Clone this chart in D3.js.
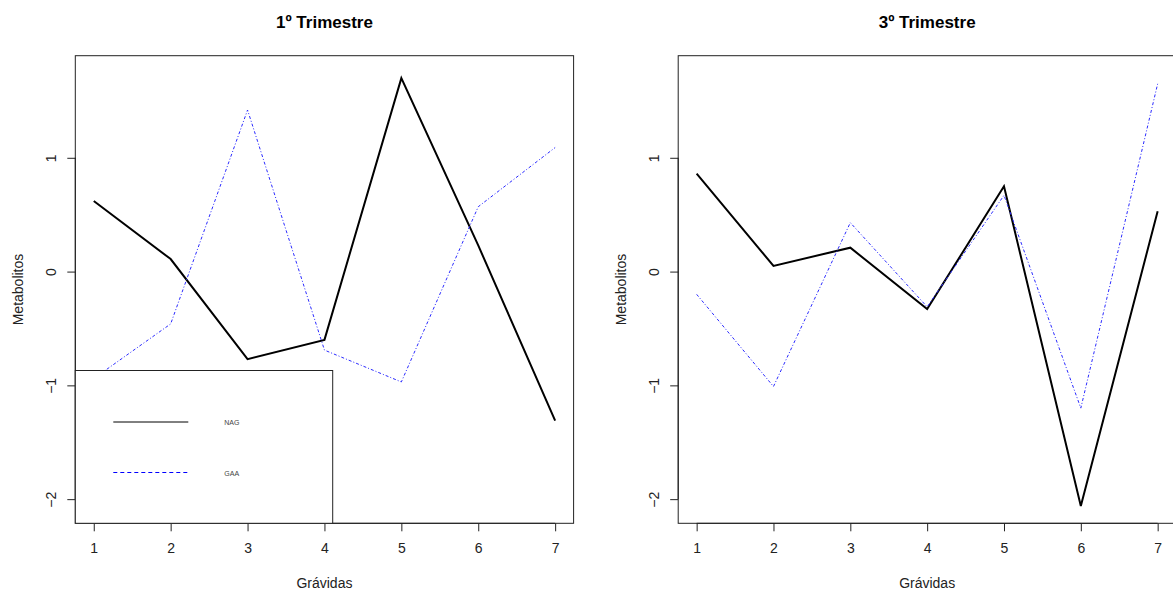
<!DOCTYPE html>
<html>
<head>
<meta charset="utf-8">
<script src="https://cdn.jsdelivr.net/npm/d3@7"></script>
<style>
  html, body { margin: 0; padding: 0; background: #fff; }
  svg { display: block; }
  text { font-family: "Liberation Sans", Arial, sans-serif; }
</style>
</head>
<body>
<svg id="chart" width="1173" height="591"></svg>
<script>
// Gestantes (1..7) and standardized metabolite levels per trimester
const gravidas = [1, 2, 3, 4, 5, 6, 7];

const nagT1 = [0.62, 0.11, -0.77, -0.60, 1.70, 0.23, -1.31];
const gaaT1 = [-0.94, -0.46, 1.42, -0.69, -0.97, 0.57, 1.09];

const nagT3 = [0.86, 0.05, 0.21, -0.33, 0.75, -2.06, 0.53];
const gaaT3 = [-0.20, -1.01, 0.43, -0.31, 0.67, -1.20, 1.65];

const xTicks = [1, 2, 3, 4, 5, 6, 7];
const yTicks = [-2, -1, 0, 1];
const yLimits = [-2.06, 1.745];

const titles = ["1º Trimestre", "3º Trimestre"];
const seriesNames = ["NAG", "GAA"];
const xLabel = "Grávidas";
const yLabel = "Metabolitos";

const svg = d3.select("#chart");

// Plot regions (base-graphics style: box + 4% axis padding)
const panels = [
  { title: titles[0], nag: nagT1, gaa: gaaT1, left: 75.3, right: 573.6, legend: true },
  { title: titles[1], nag: nagT3, gaa: gaaT3, left: 678.2, right: 1176.1, legend: false }
];
const plotTop = 55.7, plotBottom = 523.3;

function padded(lo, hi) {
  const p = (hi - lo) * 0.04;
  return [lo - p, hi + p];
}

panels.forEach(p => {
  const g = svg.append("g");
  const x = d3.scaleLinear()
    .domain(padded(d3.min(gravidas), d3.max(gravidas)))
    .range([p.left, p.right]);
  const y = d3.scaleLinear()
    .domain(padded(yLimits[0], yLimits[1]))
    .range([plotBottom, plotTop]);

  const line = d3.line()
    .x((d, i) => x(gravidas[i]))
    .y(d => y(d));

  // NAG: solid black, GAA: thin blue dot-dash
  g.append("path")
    .datum(p.nag)
    .attr("d", line)
    .attr("fill", "none")
    .attr("stroke", "#000")
    .attr("stroke-width", 2)
    .attr("stroke-linejoin", "miter");

  g.append("path")
    .datum(p.gaa)
    .attr("d", line)
    .attr("fill", "none")
    .attr("stroke", "#2a2aff")
    .attr("stroke-width", 1)
    .attr("stroke-dasharray", "3,2,1,2");

  // Box
  g.append("rect")
    .attr("x", p.left)
    .attr("y", plotTop)
    .attr("width", p.right - p.left)
    .attr("height", plotBottom - plotTop)
    .attr("fill", "none")
    .attr("stroke", "#222")
    .attr("stroke-width", 1);

  // X axis
  const xAxis = g.append("g")
    .attr("transform", `translate(0,${plotBottom})`)
    .call(d3.axisBottom(x).tickValues(xTicks).tickFormat(d3.format("d")).tickSizeInner(8).tickSizeOuter(0).tickPadding(0));
  xAxis.select(".domain")
    .attr("d", `M${x(xTicks[0])},0H${x(xTicks[xTicks.length - 1])}`)
    .attr("stroke", "#222");
  xAxis.selectAll(".tick line").attr("stroke", "#222");
  xAxis.selectAll(".tick text")
    .attr("y", 30)
    .attr("dy", null)
    .attr("fill", "#222")
    .style("font-size", "14px")
    .style("font-family", "'Liberation Sans', Arial, sans-serif");

  // Y axis with rotated labels
  const yAxis = g.append("g")
    .attr("transform", `translate(${p.left},0)`)
    .call(d3.axisLeft(y).tickValues(yTicks).tickFormat(d3.format("d")).tickSizeInner(8).tickSizeOuter(0));
  yAxis.select(".domain")
    .attr("d", `M0,${y(yTicks[0])}V${y(yTicks[yTicks.length - 1])}`)
    .attr("stroke", "#222");
  yAxis.selectAll(".tick line").attr("stroke", "#222");
  yAxis.selectAll(".tick text")
    .attr("x", null)
    .attr("dy", null)
    .attr("text-anchor", "middle")
    .attr("transform", "translate(-19,0) rotate(-90)")
    .attr("fill", "#222")
    .style("font-size", "14px")
    .style("font-family", "'Liberation Sans', Arial, sans-serif");

  const cx = (p.left + p.right) / 2;
  const cy = (plotTop + plotBottom) / 2;

  g.append("text")
    .attr("x", cx)
    .attr("y", 28)
    .attr("text-anchor", "middle")
    .style("font-size", "17px")
    .style("font-weight", "bold")
    .attr("fill", "#000")
    .text(p.title);

  g.append("text")
    .attr("x", cx)
    .attr("y", 588)
    .attr("text-anchor", "middle")
    .style("font-size", "14px")
    .attr("fill", "#222")
    .text(xLabel);

  g.append("text")
    .attr("transform", `translate(${p.left - 52},${cy}) rotate(-90)`)
    .attr("text-anchor", "middle")
    .style("font-size", "14px")
    .attr("fill", "#222")
    .text(yLabel);

  if (p.legend) {
    const lg = g.append("g");
    const lx = p.left, ly = 370.5, lw = 257.4, lh = plotBottom - 370.5;
    lg.append("rect")
      .attr("x", lx).attr("y", ly)
      .attr("width", lw).attr("height", lh)
      .attr("fill", "#fff")
      .attr("stroke", "#222")
      .attr("stroke-width", 1);

    const items = [
      { name: seriesNames[0], color: "#000", width: 1, dash: null, y: 422 },
      { name: seriesNames[1], color: "#0000ff", width: 1, dash: "4,3", y: 472.5 }
    ];
    items.forEach(it => {
      lg.append("line")
        .attr("x1", lx + 38).attr("x2", lx + 113)
        .attr("y1", it.y).attr("y2", it.y)
        .attr("stroke", it.color)
        .attr("stroke-width", it.width)
        .attr("stroke-dasharray", it.dash);
      lg.append("text")
        .attr("x", lx + 149)
        .attr("y", it.y + 3)
        .style("font-size", "7px")
        .attr("fill", "#444")
        .text(it.name);
    });
  }
});
</script>
</body>
</html>
